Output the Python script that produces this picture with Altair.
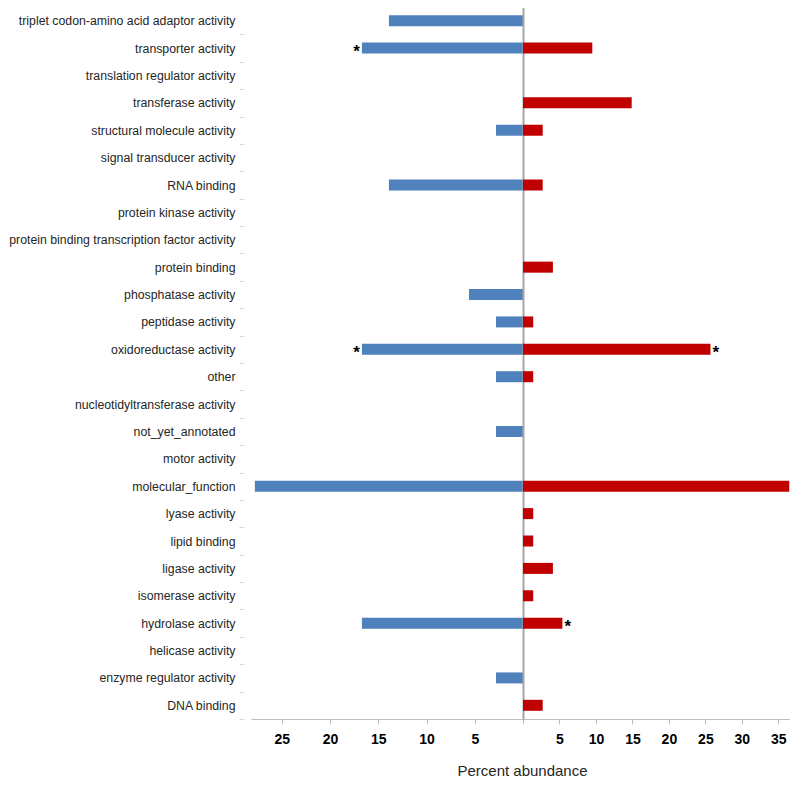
import altair as alt
import pandas as pd

categories = [
    "triplet codon-amino acid adaptor activity",
    "transporter activity",
    "translation regulator activity",
    "transferase activity",
    "structural molecule activity",
    "signal transducer activity",
    "RNA binding",
    "protein kinase activity",
    "protein binding transcription factor activity",
    "protein binding",
    "phosphatase activity",
    "peptidase activity",
    "oxidoreductase activity",
    "other",
    "nucleotidyltransferase activity",
    "not_yet_annotated",
    "motor activity",
    "molecular_function",
    "lyase activity",
    "lipid binding",
    "ligase activity",
    "isomerase activity",
    "hydrolase activity",
    "helicase activity",
    "enzyme regulator activity",
    "DNA binding",
]
blue = [13.9, 16.7, 0, 0, 2.8, 0, 13.9, 0, 0, 0, 5.6, 2.8, 16.7, 2.8, 0, 2.8, 0, 27.8,
        0, 0, 0, 0, 16.7, 0, 2.8, 0]
red = [0, 9.5, 0, 14.9, 2.7, 0, 2.7, 0, 0, 4.1, 0, 1.4, 25.7, 1.4, 0, 0, 0, 36.5,
       1.4, 1.4, 4.1, 1.4, 5.4, 0, 0, 2.7]
blue_star = [0, 1, 0, 0, 0, 0, 0, 0, 0, 0, 0, 0, 1, 0, 0, 0, 0, 0, 0, 0, 0, 0, 0, 0, 0, 0]
red_star = [0, 0, 0, 0, 0, 0, 0, 0, 0, 0, 0, 0, 1, 0, 0, 0, 0, 0, 0, 0, 0, 0, 1, 0, 0, 0]
left_ticks = [0, 5, 10, 15, 20, 25]
right_ticks = [5, 10, 15, 20, 25, 30, 35]

df = pd.DataFrame({"cat": categories, "blue": blue, "red": red,
                   "bstar": blue_star, "rstar": red_star})

FONT = "Liberation Sans"
H = 712

yscale = alt.Scale(domain=categories, paddingInner=0, paddingOuter=0)

y_left = alt.Y("cat:N", scale=yscale, title=None,
               axis=alt.Axis(labelFont=FONT, labelFontSize=12.3, labelColor="#262626",
                             domain=False, ticks=True, tickColor="#D9D9D9", tickSize=5,
                             tickBand="extent", offset=7, labelPadding=4, labelLimit=400))
y_right = alt.Y("cat:N", scale=yscale, title=None,
                axis=alt.Axis(labels=False, ticks=False, domain=True, minExtent=0,
                              domainColor="#A6A6A6", domainWidth=2))

xaxis_common = dict(labelFont=FONT, labelFontSize=14, labelFontWeight="bold",
                    labelColor="#000000", domainColor="#BFBFBF", tickColor="#BFBFBF",
                    tickSize=5, labelPadding=8, grid=False, labelOverlap=False,
                    labelFlush=False, labelBound=False)

x_left = alt.X("blue:Q", title=None,
               scale=alt.Scale(domain=[0, 28.2], reverse=True, nice=False),
               axis=alt.Axis(values=left_ticks,
                             labelExpr="datum.value == 0 ? '' : datum.label",
                             **xaxis_common))
x_right = alt.X("red:Q", title="Percent abundance",
                scale=alt.Scale(domain=[0, 36.6], nice=False),
                axis=alt.Axis(values=right_ticks, format="d",
                              titleFont=FONT, titleFontSize=15, titleFontWeight="normal",
                              titleColor="#262626", titleX=-1, titleY=44,
                              titleAlign="center", titleBaseline="top",
                              **xaxis_common))

base = alt.Chart(df)

left_bars = base.transform_filter("datum.blue > 0").mark_bar(
    color="#4F81BD", size=11).encode(x=x_left, y=y_left)
left_stars = base.transform_filter("datum.bstar == 1").mark_text(
    text="*", align="right", baseline="middle", dx=-2, dy=4, fontSize=17,
    fontWeight="bold", font=FONT, color="#000000").encode(x=x_left, y=y_left)
left = (left_bars + left_stars).properties(width=272, height=H)

right_bars = base.transform_filter("datum.red > 0").mark_bar(
    color="#C00000", size=11).encode(x=x_right, y=y_right)
right_stars = base.transform_filter("datum.rstar == 1").mark_text(
    text="*", align="left", baseline="middle", dx=2, dy=4, fontSize=17,
    fontWeight="bold", font=FONT, color="#000000").encode(x=x_right, y=y_right)
right = (right_bars + right_stars).properties(width=267, height=H)

chart = alt.hconcat(left, right, spacing=0, bounds="flush").properties(
    padding={"top": -7, "left": 0, "right": 0, "bottom": 0}, background="white"
).configure_view(stroke=None).configure_axis(labelOverlap=False)

chart.save("out.html", embed_options={"renderer": "svg", "actions": False})
